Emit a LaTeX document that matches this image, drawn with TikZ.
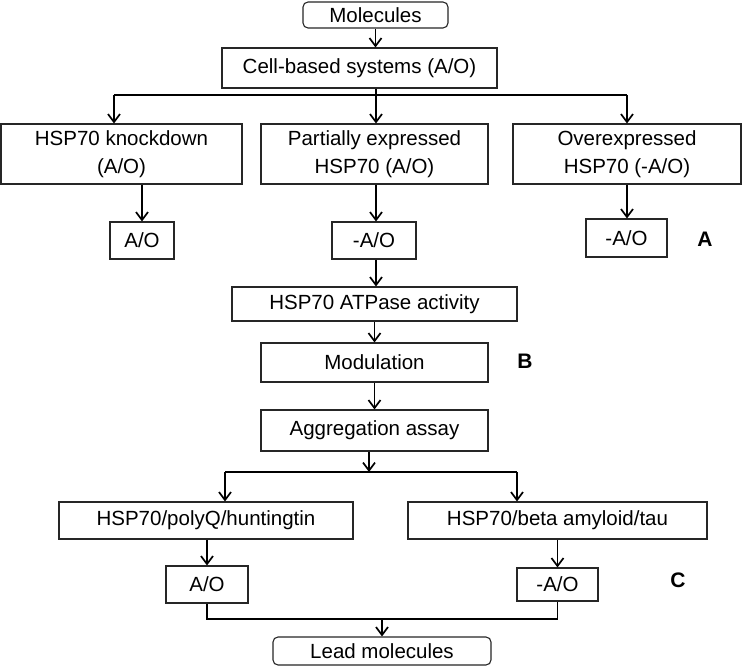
\documentclass[tikz,border=0pt]{standalone}
\usepackage{fontspec}
\setmainfont{Liberation Sans}
\usetikzlibrary{arrows.meta}
\begin{document}
\begin{tikzpicture}[x=1pt,y=-1pt,
 box/.style={draw=black!85,line width=1.1pt,fill=white,inner sep=0pt,align=center,font=\fontsize{20.5}{28}\selectfont},
 rbox/.style={box,rounded corners=5pt},
 arr/.style={line width=1.1pt,-{Straight Barb[length=8pt,width=12pt,line width=1.7pt]}},
 ln/.style={line width=1.1pt},
 lab/.style={font=\fontsize{21}{24}\selectfont\bfseries}]
\useasboundingbox (0,0) rectangle (742,666);
% nodes
\node[rbox,minimum width=145pt,minimum height=26pt] (mol) at (375.5,15) {Molecules};
\node[box,minimum width=275pt,minimum height=40pt] (cell) at (359.5,68) {Cell-based systems (A/O)};
\node[box,minimum width=241pt,minimum height=60pt] (kd) at (121.5,154) {HSP70 knockdown\\(A/O)};
\node[box,minimum width=227pt,minimum height=60pt] (pe) at (374.5,154) {Partially expressed\\HSP70 (A/O)};
\node[box,minimum width=228pt,minimum height=60pt] (oe) at (627,154) {Overexpressed\\HSP70 (-A/O)};
\node[box,minimum width=64pt,minimum height=37pt] (ao1) at (142,240.5) {A/O};
\node[box,minimum width=84pt,minimum height=37pt] (ao2) at (374,240.5) {-A/O};
\node[box,minimum width=81pt,minimum height=38pt] (ao3) at (626.5,238) {-A/O};
\node[box,minimum width=285pt,minimum height=34pt] (atp) at (374.5,304) {HSP70 ATPase activity};
\node[box,minimum width=227pt,minimum height=39pt] (mod) at (374.5,362.5) {Modulation};
\node[box,minimum width=227pt,minimum height=41pt] (agg) at (374.5,430.5) {Aggregation assay};
\node[box,minimum width=294pt,minimum height=37pt] (pq) at (206,520.5) {HSP70/polyQ/huntingtin};
\node[box,minimum width=299pt,minimum height=37pt] (ba) at (557.5,520.5) {HSP70/beta amyloid/tau};
\node[box,minimum width=82pt,minimum height=37pt] (ao4) at (207,584.5) {A/O};
\node[box,minimum width=81pt,minimum height=33pt] (ao5) at (557.5,584.5) {-A/O};
\node[rbox,minimum width=218pt,minimum height=28pt] (lead) at (382,651) {Lead molecules};
\node[lab] (la) at (705,239) {A};
\node[lab] (lb) at (525,361) {B};
\node[lab] (lc) at (678,580) {C};
% coordinates
\coordinate (c1) at (376,95);
\coordinate (bl) at (114,95);
\coordinate (br) at (627,95);
\coordinate (c2) at (369,472);
\coordinate (l2) at (225,472);
\coordinate (r2) at (517,472);
\coordinate (m) at (382,619);
% connectors
\draw[arr] (mol.south) -- (mol.south |- cell.north);
\draw[ln] (cell.south -| c1) -- (c1);
\draw[ln] (bl) -- (br);
\draw[arr] (bl) -- (bl |- kd.north);
\draw[arr] (c1) -- (c1 |- pe.north);
\draw[arr] (br) -- (br |- oe.north);
\draw[arr] (kd.south -| ao1) -- (ao1.north);
\draw[arr] (pe.south -| c1) -- (c1 |- ao2.north);
\draw[arr] (oe.south) -- (oe.south |- ao3.north);
\draw[arr] (ao2.south -| c1) -- (c1 |- atp.north);
\draw[arr] (atp.south) -- (atp.south |- mod.north);
\draw[arr] (mod.south) -- (agg.north);
\draw[arr] (agg.south -| c2) -- (c2);
\draw[ln] (l2) -- (r2);
\draw[arr] (l2) -- (l2 |- pq.north);
\draw[arr] (r2) -- (r2 |- ba.north);
\draw[arr] (pq.south -| ao4) -- (ao4.north);
\draw[arr] (ba.south -| ao5) -- (ao5.north);
\draw[ln] (ao4.south) -- (ao4.south |- m) -- (ao5.south |- m) -- (ao5.south);
\draw[arr] (m) -- (lead.north);
\end{tikzpicture}
\end{document}
